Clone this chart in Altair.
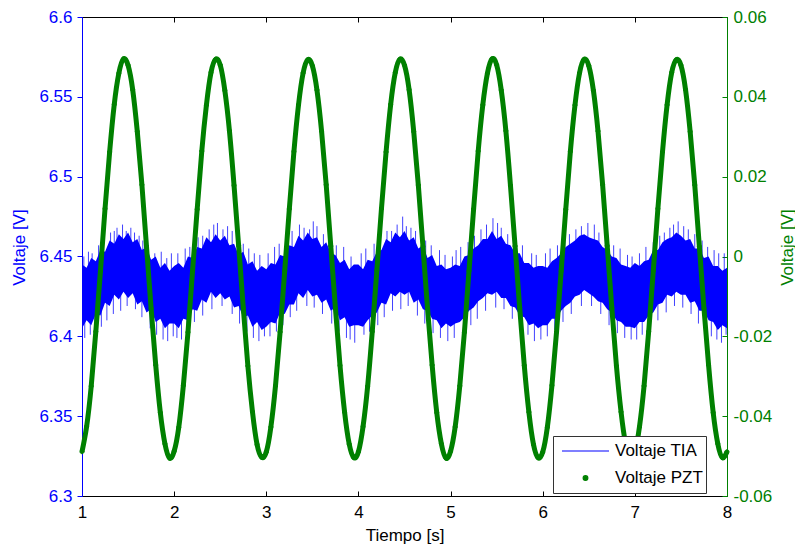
import altair as alt
import pandas as pd

# ---------------- data ----------------
time_s = [round(1 + 0.05 * i, 2) for i in range(141)]

# Voltaje TIA: dense noise band, upper / lower edges (V)
tia_hi = [
    6.445, 6.443, 6.449, 6.447, 6.454, 6.453, 6.460, 6.458, 6.464, 6.461, 6.465, 6.459, 6.461, 6.454, 6.456, 6.448, 6.450, 6.443, 6.446, 6.441,
    6.444, 6.446, 6.443, 6.450, 6.449, 6.456, 6.455, 6.462, 6.459, 6.464, 6.460, 6.463, 6.457, 6.458, 6.451, 6.453, 6.445, 6.447, 6.441, 6.444,
    6.442, 6.446, 6.445, 6.451, 6.450, 6.457, 6.456, 6.463, 6.460, 6.465, 6.461, 6.462, 6.456, 6.459, 6.452, 6.451, 6.446, 6.448, 6.442, 6.445,
    6.445, 6.442, 6.448, 6.447, 6.453, 6.454, 6.461, 6.459, 6.465, 6.462, 6.466, 6.460, 6.462, 6.455, 6.457, 6.449, 6.451, 6.444, 6.445, 6.442,
    6.443, 6.445, 6.444, 6.450, 6.451, 6.455, 6.457, 6.461, 6.461, 6.466, 6.461, 6.463, 6.458, 6.457, 6.452, 6.452, 6.446, 6.446, 6.443, 6.444,
    6.444, 6.443, 6.447, 6.449, 6.452, 6.456, 6.458, 6.460, 6.463, 6.464, 6.462, 6.461, 6.460, 6.456, 6.454, 6.450, 6.449, 6.445, 6.444, 6.443,
    6.446, 6.444, 6.447, 6.448, 6.454, 6.454, 6.459, 6.461, 6.462, 6.465, 6.463, 6.460, 6.461, 6.455, 6.455, 6.449, 6.450, 6.444, 6.444, 6.441,
    6.443,
]
tia_lo = [
    6.405, 6.410, 6.407, 6.414, 6.413, 6.421, 6.419, 6.426, 6.423, 6.428, 6.424, 6.427, 6.420, 6.422, 6.415, 6.417, 6.409, 6.411, 6.405, 6.408,
    6.408, 6.405, 6.411, 6.410, 6.417, 6.416, 6.423, 6.421, 6.428, 6.424, 6.427, 6.423, 6.425, 6.418, 6.419, 6.412, 6.413, 6.406, 6.409, 6.404,
    6.406, 6.409, 6.408, 6.415, 6.414, 6.420, 6.420, 6.427, 6.424, 6.429, 6.425, 6.426, 6.421, 6.423, 6.416, 6.418, 6.410, 6.412, 6.406, 6.407,
    6.407, 6.406, 6.410, 6.413, 6.415, 6.421, 6.420, 6.427, 6.425, 6.428, 6.426, 6.428, 6.421, 6.423, 6.417, 6.416, 6.411, 6.410, 6.405, 6.408,
    6.406, 6.408, 6.409, 6.412, 6.416, 6.418, 6.422, 6.424, 6.427, 6.426, 6.428, 6.424, 6.424, 6.419, 6.418, 6.413, 6.412, 6.407, 6.408, 6.405,
    6.407, 6.407, 6.411, 6.411, 6.416, 6.419, 6.421, 6.425, 6.426, 6.429, 6.427, 6.425, 6.422, 6.421, 6.417, 6.415, 6.410, 6.409, 6.406, 6.406,
    6.405, 6.409, 6.409, 6.413, 6.415, 6.420, 6.421, 6.426, 6.425, 6.428, 6.426, 6.426, 6.421, 6.422, 6.416, 6.416, 6.410, 6.409, 6.404, 6.407,
    6.405,
]

# isolated noise spikes of the TIA signal (time, tip value)
spike_t = [
    1.07, 1.18, 1.31, 1.38, 1.44, 1.53, 1.62, 1.71, 1.86, 1.97,
    2.12, 2.26, 2.38, 2.47, 2.58, 2.69, 2.81, 2.93,
    3.09, 3.22, 3.36, 3.47, 3.55, 3.68, 3.84,
    4.03, 4.17, 4.31, 4.42, 4.48, 4.57, 4.73, 4.88,
    5.06, 5.19, 5.33, 5.46, 5.55, 5.71, 5.88,
    6.08, 6.24, 6.36, 6.49, 6.61, 6.77, 6.92,
    7.12, 7.27, 7.38, 7.47, 7.58, 7.73, 7.86, 7.97,
    1.02, 1.11, 1.23, 1.35, 1.48, 1.57, 1.66, 1.79, 1.92,
    2.04, 2.17, 2.31, 2.43, 2.53, 2.63, 2.75, 2.87,
    3.02, 3.14, 3.28, 3.41, 3.51, 3.62, 3.76, 3.92,
    4.08, 4.23, 4.36, 4.52, 4.62, 4.79, 4.94,
    5.02, 5.11, 5.26, 5.39, 5.51, 5.62, 5.78, 5.93,
    6.03, 6.16, 6.29, 6.42, 6.56, 6.68, 6.84, 6.97,
    7.05, 7.20, 7.32, 7.42, 7.53, 7.65, 7.79, 7.91,
    1.03, 1.14, 1.27, 1.42, 1.58, 1.74, 1.88, 1.99,
    2.08, 2.22, 2.41, 2.63, 2.79, 2.92,
    3.04, 3.18, 3.33, 3.52, 3.71, 3.87, 3.96,
    4.12, 4.28, 4.46, 4.64, 4.81, 4.97,
    5.14, 5.29, 5.49, 5.67, 5.84, 5.98,
    6.13, 6.31, 6.53, 6.72, 6.89,
    7.02, 7.16, 7.34, 7.52, 7.69, 7.83, 7.94,
    1.09, 1.21, 1.34, 1.49, 1.65, 1.81, 1.93,
    2.03, 2.14, 2.31, 2.52, 2.71, 2.86, 2.98,
    3.11, 3.26, 3.44, 3.61, 3.79, 3.91,
    4.06, 4.21, 4.37, 4.54, 4.72, 4.89,
    5.04, 5.22, 5.38, 5.58, 5.76, 5.91,
    6.05, 6.22, 6.42, 6.63, 6.81, 6.96,
    7.08, 7.25, 7.43, 7.61, 7.77, 7.89, 7.99,
]
spike_tip = [
    6.453, 6.457, 6.465, 6.468, 6.470, 6.468, 6.463, 6.458, 6.453, 6.452,
    6.455, 6.462, 6.467, 6.471, 6.469, 6.462, 6.455, 6.451,
    6.456, 6.463, 6.470, 6.467, 6.469, 6.461, 6.456,
    6.452, 6.458, 6.466, 6.470, 6.475, 6.468, 6.460, 6.454,
    6.454, 6.459, 6.467, 6.474, 6.468, 6.460, 6.452,
    6.455, 6.462, 6.467, 6.471, 6.465, 6.457, 6.451,
    6.456, 6.463, 6.468, 6.472, 6.467, 6.460, 6.454, 6.452,
    6.450, 6.452, 6.460, 6.466, 6.466, 6.465, 6.460, 6.452, 6.449,
    6.452, 6.456, 6.463, 6.470, 6.467, 6.466, 6.458, 6.452,
    6.452, 6.458, 6.466, 6.468, 6.472, 6.464, 6.457, 6.450,
    6.455, 6.462, 6.466, 6.469, 6.466, 6.457, 6.451,
    6.450, 6.456, 6.463, 6.470, 6.471, 6.464, 6.457, 6.451,
    6.452, 6.457, 6.464, 6.469, 6.470, 6.462, 6.455, 6.450,
    6.452, 6.459, 6.465, 6.470, 6.469, 6.464, 6.456, 6.452,
    6.399, 6.403, 6.410, 6.416, 6.417, 6.405, 6.398, 6.400,
    6.398, 6.409, 6.417, 6.414, 6.403, 6.397,
    6.400, 6.407, 6.416, 6.418, 6.408, 6.399, 6.396,
    6.403, 6.412, 6.417, 6.413, 6.402, 6.397,
    6.402, 6.411, 6.418, 6.411, 6.401, 6.398,
    6.404, 6.414, 6.419, 6.407, 6.399,
    6.398, 6.404, 6.415, 6.418, 6.408, 6.400, 6.396,
    6.401, 6.406, 6.414, 6.419, 6.412, 6.401, 6.397,
    6.399, 6.402, 6.413, 6.419, 6.408, 6.399, 6.400,
    6.403, 6.412, 6.419, 6.414, 6.403, 6.398,
    6.401, 6.407, 6.416, 6.419, 6.408, 6.399,
    6.399, 6.407, 6.416, 6.417, 6.405, 6.397,
    6.400, 6.409, 6.419, 6.414, 6.402, 6.398,
    6.401, 6.410, 6.419, 6.414, 6.404, 6.398, 6.401,
]
spike_base = 6.435

# Voltaje PZT (V), same sampling times
pzt_v = [
    -0.0489, -0.0426, -0.0325, -0.0188, -0.0037, 0.0120, 0.0262, 0.0381, 0.0459, 0.0495, 0.0479, 0.0418, 0.0313, 0.0180, 0.0025, -0.0130, -0.0272, -0.0391, -0.0469, -0.0505,
    -0.0488, -0.0428, -0.0323, -0.0190, -0.0035, 0.0118, 0.0264, 0.0379, 0.0461, 0.0494, 0.0480, 0.0416, 0.0315, 0.0178, 0.0027, -0.0128, -0.0274, -0.0389, -0.0471, -0.0503,
    -0.0490, -0.0427, -0.0324, -0.0189, -0.0036, 0.0119, 0.0263, 0.0380, 0.0460, 0.0493, 0.0478, 0.0417, 0.0314, 0.0180, 0.0026, -0.0129, -0.0273, -0.0390, -0.0470, -0.0504,
    -0.0489, -0.0426, -0.0325, -0.0188, -0.0035, 0.0120, 0.0262, 0.0381, 0.0461, 0.0494, 0.0479, 0.0418, 0.0313, 0.0179, 0.0025, -0.0130, -0.0272, -0.0391, -0.0469, -0.0505,
    -0.0488, -0.0427, -0.0324, -0.0190, -0.0036, 0.0119, 0.0264, 0.0380, 0.0459, 0.0495, 0.0480, 0.0417, 0.0315, 0.0178, 0.0026, -0.0128, -0.0273, -0.0390, -0.0471, -0.0504,
    -0.0490, -0.0428, -0.0323, -0.0189, -0.0037, 0.0118, 0.0263, 0.0379, 0.0460, 0.0494, 0.0478, 0.0416, 0.0314, 0.0180, 0.0027, -0.0129, -0.0274, -0.0389, -0.0470, -0.0503,
    -0.0489, -0.0427, -0.0324, -0.0188, -0.0036, 0.0120, 0.0262, 0.0380, 0.0461, 0.0493, 0.0479, 0.0418, 0.0313, 0.0179, 0.0025, -0.0130, -0.0272, -0.0391, -0.0469, -0.0504,
    -0.0489,
]

series = ["Voltaje TIA", "Voltaje PZT"]
x_ticks = [1, 2, 3, 4, 5, 6, 7, 8]
yl_ticks = [6.3, 6.35, 6.4, 6.45, 6.5, 6.55, 6.6]
yr_ticks = [-0.06, -0.04, -0.02, 0, 0.02, 0.04, 0.06]

# ---------------- styling ----------------
FONT = "Liberation Sans"
FS = 17
BLUE = "#0000ff"
GREEN = "#008000"
LINE_PATH = "M-1,0L1,0"
DOT_PATH = "M-0.1,0A0.1,0.1,0,1,1,0.1,0A0.1,0.1,0,1,1,-0.1,0Z"

tia_df = pd.DataFrame({"t": time_s, "lo": tia_lo, "hi": tia_hi})
spk_df = pd.DataFrame({"t": spike_t, "tip": spike_tip, "base": spike_base})
pzt_df = pd.DataFrame({"t": time_s, "v": pzt_v, "serie": "Voltaje PZT"})

xscale = alt.Scale(domain=[1, 8], nice=False, zero=False)
yl_scale = alt.Scale(domain=[6.3, 6.6], nice=False, zero=False)
yr_scale = alt.Scale(domain=[-0.06, 0.06], nice=False, zero=False)

x_bottom = alt.Axis(
    orient="bottom", values=x_ticks, format="d", domain=False, ticks=True,
    tickSize=5, tickColor="black", offset=-5, labelPadding=8,
    labelFont=FONT, labelFontSize=FS, labelColor="black", labelFlush=False,
    title="Tiempo [s]", titleFont=FONT, titleFontSize=FS, titleFontWeight="normal",
    titleColor="black", titleBaseline="alphabetic", titleAlign="center",
    titleX=322.5, titleY=49, grid=False,
)
x_top = alt.Axis(
    orient="top", values=x_ticks, domain=False, ticks=True, tickSize=5,
    tickColor="black", offset=-5, labels=False, title=None, grid=False,
)
yl_axis = alt.Axis(
    orient="left", values=yl_ticks, format="~g", domain=True, domainColor=BLUE,
    ticks=True, tickColor=BLUE, tickSize=5, labelColor=BLUE, labelPadding=5,
    labelFont=FONT, labelFontSize=FS, labelFlush=False,
    title="Voltaje [V]", titleColor=BLUE, titleFont=FONT, titleFontSize=FS,
    titleFontWeight="normal", titleAngle=270, titleAlign="center",
    titleBaseline="middle", titleX=-63, titleY=230, grid=False,
)
yr_tick_axis = alt.Axis(
    orient="right", values=yr_ticks,
    labelExpr="datum.value == 0 ? '0' : replace(format(datum.value, '.2f'), '\u2212', '-')",
    domain=False, ticks=True, tickSize=5, tickColor=GREEN, offset=-5,
    labelPadding=6, labelColor=GREEN, labelFont=FONT, labelFontSize=FS,
    labelFlush=False, title=None, grid=False,
)
yr_dom_axis = alt.Axis(
    orient="right", domain=True, domainColor=GREEN, ticks=False, labels=False,
    title="Voltaje [V]", titleColor=GREEN, titleFont=FONT, titleFontSize=FS,
    titleFontWeight="normal", titleAngle=270, titleAlign="center",
    titleBaseline="middle", titleX=60, titleY=230, grid=False,
)

leg = alt.Legend(
    title=None, orient="none", legendX=471, legendY=419,
    fillColor="white", strokeColor="#333333", padding=3,
    symbolOffset=5, labelOffset=5, clipHeight=24, rowPadding=3,
    symbolSize=2209, symbolStrokeWidth=1.2,
    labelFont=FONT, labelFontSize=FS, labelColor="black", labelLimit=300,
)

area = alt.Chart(tia_df).mark_area(color=BLUE, opacity=1).encode(
    x=alt.X("t:Q", scale=xscale, axis=x_bottom),
    y=alt.Y("lo:Q", scale=yl_scale, axis=yl_axis),
    y2="hi:Q",
)
spikes = alt.Chart(spk_df).mark_rule(color=BLUE, strokeWidth=1, opacity=0.75).encode(
    x=alt.X("t:Q", scale=xscale, axis=x_bottom),
    y=alt.Y("tip:Q", scale=yl_scale, axis=yl_axis),
    y2="base:Q",
)
blue = alt.layer(area, spikes)

line = alt.Chart(pzt_df).mark_line(color=GREEN, strokeWidth=5, interpolate="natural").encode(
    x=alt.X("t:Q", scale=xscale, axis=x_top),
    y=alt.Y("v:Q", scale=yr_scale, axis=yr_tick_axis),
)
pts = alt.Chart(pzt_df).mark_point(filled=True, size=1600, opacity=1, strokeWidth=1).encode(
    x=alt.X("t:Q", scale=xscale, axis=x_top),
    y=alt.Y("v:Q", scale=yr_scale, axis=yr_dom_axis),
    fill=alt.Fill("serie:N", scale=alt.Scale(domain=series, range=[BLUE, GREEN]), legend=leg),
    stroke=alt.Stroke("serie:N", scale=alt.Scale(domain=series, range=[BLUE, GREEN]), legend=leg),
    shape=alt.Shape("serie:N", scale=alt.Scale(domain=series, range=[LINE_PATH, DOT_PATH]), legend=leg),
)
green = alt.layer(line, pts).resolve_axis(y="independent")

chart = (
    alt.layer(blue, green)
    .resolve_scale(y="independent")
    .resolve_axis(x="independent")
    .properties(
        width=645, height=479,
        autosize=alt.AutoSizeParams(type="none"),
        padding={"left": 74, "top": 9, "right": 68, "bottom": 50},
        background="white",
    )
    .configure_view(stroke="black", strokeWidth=1)
    .configure_axis(grid=False)
)

chart.save("out.html", embed_options={"renderer": "svg", "actions": False})
